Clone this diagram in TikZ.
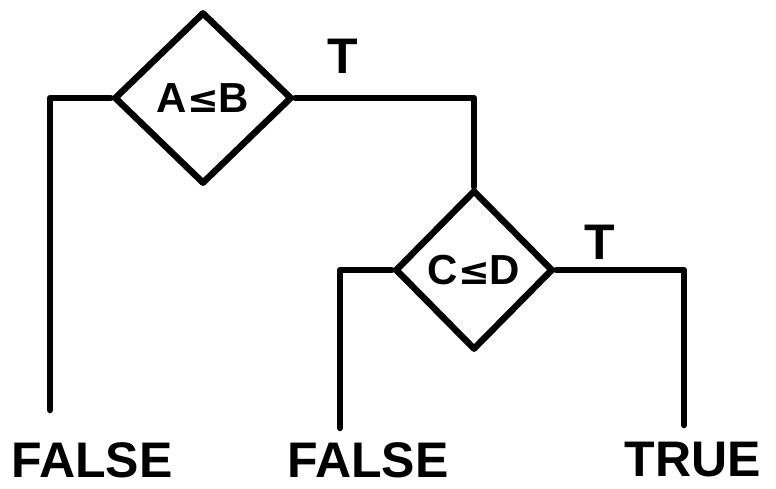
\documentclass[tikz,border=0pt]{standalone}
\usepackage{fontspec}
\setmainfont{Liberation Sans}
\newfontfamily\symfont{DejaVu Sans}
\usetikzlibrary{shapes.geometric}
\begin{document}
\begin{tikzpicture}[x=1pt,y=-1pt,
  line width=6.5pt, line cap=round, line join=round,
  decision/.style={draw, shape=diamond, inner sep=0pt, font=\fontsize{42}{46}\selectfont\bfseries},
  lbl/.style={inner sep=0pt, font=\fontsize{50}{54}\selectfont\bfseries},
  branch/.style={inner sep=0pt, font=\fontsize{50}{54}\selectfont\bfseries}]
\useasboundingbox (0,0) rectangle (776,489);
\node[decision, minimum width=178pt, minimum height=172pt] (d1) at (203,98) {A{\symfont\fontsize{38}{40}\selectfont≤}B};
\node[decision, minimum width=158pt, minimum height=160pt] (d2) at (474,270) {C{\symfont\fontsize{38}{40}\selectfont≤}D};
\coordinate (e1) at (50,410);
\coordinate (e2) at (340,428);
\coordinate (e3) at (684,425);
\draw (d1.west) -| (e1);
\draw (d1.east) -| (d2.north);
\draw (d2.west) -| (e2);
\draw (d2.east) -| (e3);
\node[branch] (t1) at (343,56) {T};
\node[branch] (t2) at (600,242) {T};
\node[lbl] (f1) at (92,460) {FALSE};
\node[lbl] (f2) at (368,460) {FALSE};
\node[lbl] (tr) at (693,460) {TRUE};
\end{tikzpicture}
\end{document}
